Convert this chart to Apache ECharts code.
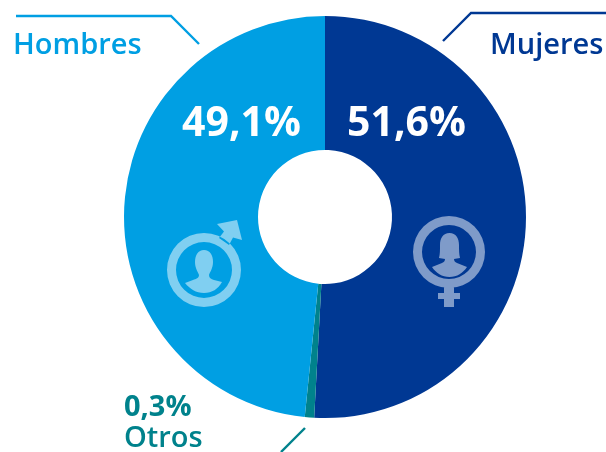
<!DOCTYPE html>
<html><head><meta charset="utf-8">
<style>html,body{margin:0;padding:0;background:#fff}#c{width:606px;height:452px}</style>
<script src="https://cdn.jsdelivr.net/npm/echarts@6/dist/echarts.min.js"></script>
</head><body><div id="c"></div>
<script>
const categories = ['Mujeres', 'Otros', 'Hombres'];
const values = [51.6, 0.3, 49.1];
const colors = ['#003893', '#00828c', '#009fe3'];
const pct = v => v.toFixed(1).replace('.', ',') + '%';
const FONT = '"Open Sans","Noto Sans",sans-serif';
const chart = echarts.init(document.getElementById('c'));
const line = (points, stroke) => ({type:'polyline', z:10, silent:true, shape:{points}, style:{stroke, lineWidth:2.4, fill:null}});
const text = (x, y, t, fill, size, weight, align) => ({type:'text', z:10, silent:true, x, y, style:{text:t, fill, fontFamily:FONT, fontSize:size, fontWeight:weight, align:align||'left', verticalAlign:'middle'}});
const ring = (cx, cy, r) => `M${cx-r} ${cy}A${r} ${r} 0 1 0 ${cx+r} ${cy}A${r} ${r} 0 1 0 ${cx-r} ${cy}Z `;
const femaleIcon =
  ring(449,252,36) + ring(449,252,27).replace(/ 0 1 0 /g,' 0 1 1 ') +
  'M444 287V293H438V299H444V307H454V299H460V293H454V287Z ' +
  'M449.5 233C443 233 440 238 440 245C440 250 440 254 439 258L445 259C445 261 444 262 442 263L432 267C436 273 442 277 449.5 277C457 277 463 273 467 267L457 263C455 262 454 261 454 259L460 258C459 254 459 250 459 245C459 238 456 233 449.5 233Z';
const maleIcon =
  ring(204,270,37) + ring(204,270,28).replace(/ 0 1 0 /g,' 0 1 1 ') +
  'M217 224L237 220L242 240L233 237.5L229 245L219 238L224 231.5Z ' +
  'M204 250C198 250 195 255 195 262C195 268 198 272 199 275C199 278 196 279 193 280L185 283C190 289 196 293 204 293C212 293 218 289 222 282L214 280C211 279 209 278 209 275C210 272 213 268 213 262C213 255 210 250 204 250Z';
echarts.graphic.registerShape('femaleIcon', echarts.graphic.extendPath(femaleIcon, {}));
echarts.graphic.registerShape('maleIcon', echarts.graphic.extendPath(maleIcon, {}));
chart.setOption({
  animation:false,
  series:[{
    type:'pie', center:[325,217], radius:[67,201], startAngle:90, clockwise:true,
    minAngle:2.7, avoidLabelOverlap:false, label:{show:false}, labelLine:{show:false},
    itemStyle:{borderWidth:0},
    data:categories.map((name,i)=>({name, value:values[i], itemStyle:{color:colors[i]}}))
  }],
  graphic:[
    line([[16,16],[171,16],[199,44]], colors[2]),
    line([[606,13],[471,13],[443,41]], colors[0]),
    line([[305,428],[281,452]], colors[1]),
    text(13,46,categories[2],colors[2],29,600),
    text(490,46,categories[0],colors[0],29,600),
    text(182,124,pct(values[2]),'#fff',41,700),
    text(347,124,pct(values[0]),'#fff',41,700),
    text(124,408,pct(values[1]),colors[1],29,700),
    text(124,439,categories[1],colors[1],29,600),
    {type:'femaleIcon', z:10, silent:true, shape:{}, style:{fill:'#7f9bc9'}},
    {type:'maleIcon', z:10, silent:true, shape:{}, style:{fill:'#80cff1'}}
  ]
});
</script></body></html>
